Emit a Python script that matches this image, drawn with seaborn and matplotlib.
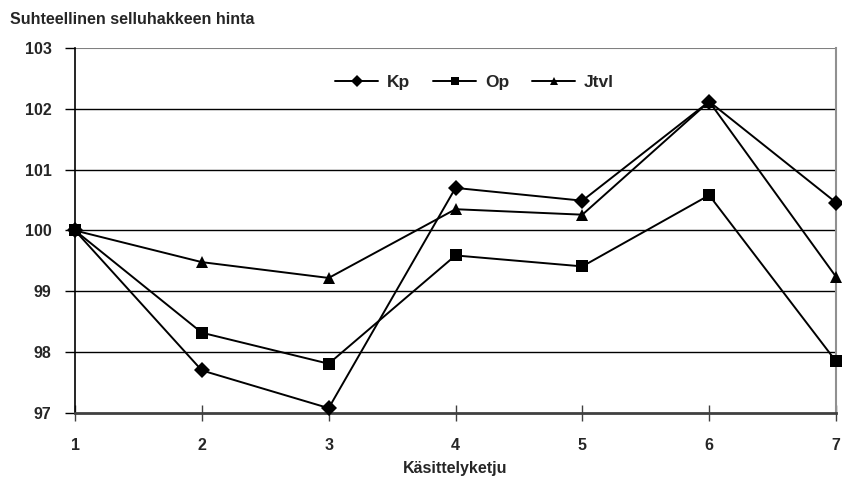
import matplotlib
matplotlib.use("Agg")
import matplotlib.pyplot as plt
import seaborn as sns
import pandas as pd

steps = [1, 2, 3, 4, 5, 6, 7]
kp = [100.0, 97.70, 97.08, 100.70, 100.49, 102.12, 100.46]
op = [100.0, 98.32, 97.81, 99.59, 99.41, 100.58, 97.85]
jtvl = [100.0, 99.48, 99.22, 100.35, 100.26, 102.12, 99.24]
series_names = ["Kp", "Op", "Jtvl"]
y_ticks = [97, 98, 99, 100, 101, 102, 103]

df = pd.concat([
    pd.DataFrame({"ketju": steps, "hinta": vals, "sarja": name})
    for name, vals in zip(series_names, [kp, op, jtvl])
])

sns.set_theme(style="white")
plt.rcParams["font.family"] = ["Liberation Sans", "DejaVu Sans"]
plt.rcParams["font.weight"] = "bold"

fig = plt.figure(figsize=(8.42, 4.88), dpi=100)
ax = fig.add_axes([75 / 842, 1 - 413 / 488, (836 - 75) / 842, (413 - 48) / 488])

sns.lineplot(
    data=df, x="ketju", y="hinta", style="sarja", hue="sarja",
    palette=["black"] * 3, markers={"Kp": "D", "Op": "s", "Jtvl": "^"},
    dashes=False, markersize=8, linewidth=1.4, markeredgewidth=0,
    ax=ax, legend=True,
)
for line in ax.lines:
    line.set_clip_on(False)
    line.set_zorder(5)

ax.set_xlim(1, 7)
ax.set_ylim(97, 103)
ax.set_xticks(steps)
ax.set_yticks(y_ticks)
ax.set_xticklabels([str(s) for s in steps], fontsize=11.5, fontweight="bold")
ax.set_yticklabels([str(t) for t in y_ticks], fontsize=11.5, fontweight="bold")

for t in y_ticks[1:-1]:
    ax.axhline(t, color="black", linewidth=1.0, zorder=0)
ax.axhline(103, color="#808080", linewidth=1.5, zorder=0)

ax.spines["left"].set_color("black")
ax.spines["left"].set_linewidth(1.2)
ax.spines["bottom"].set_color("#404040")
ax.spines["bottom"].set_linewidth(2.0)
ax.spines["right"].set_color("#909090")
ax.spines["right"].set_linewidth(1.5)
ax.spines["top"].set_visible(False)

ax.tick_params(axis="y", direction="out", length=7, width=1, color="black", left=True, pad=10)
ax.tick_params(axis="x", direction="inout", length=12, width=1, color="#404040", bottom=True, pad=12)

ax.set_xlabel("Käsittelyketju", fontsize=11.5, fontweight="bold", labelpad=6)
ax.set_ylabel("")
fig.text(10 / 842, 1 - 19 / 488, "Suhteellinen selluhakkeen hinta", fontsize=11.5,
         fontweight="bold", ha="left", va="center")

handles, labels = ax.get_legend_handles_labels()
ax.legend(handles, labels, loc="upper center", bbox_to_anchor=(0.525, 0.97), ncol=3,
          frameon=False, handlelength=2.5, columnspacing=1.3, handletextpad=0.5,
          markerscale=0.8, prop={"weight": "bold", "size": 12.5})

fig.savefig("out.png", dpi=100)
